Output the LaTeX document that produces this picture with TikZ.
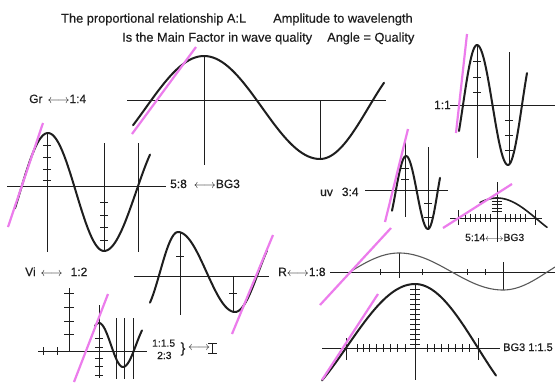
\documentclass[tikz,border=0pt]{standalone}
\usepackage{fontspec}
\setmainfont{Liberation Sans}[FakeBold=0.3]
\definecolor{mag}{RGB}{236,124,236}
\definecolor{ink}{RGB}{30,30,30}
\pgfmathdeclarefunction{hw}{5}{%
  \begingroup
    \pgfmathparse{(#3+#5)/2+(#3-#5)/2*cos(((#1-#2)/(#4-#2))*180)}%
    \pgfmathsmuggle\pgfmathresult
  \endgroup}
\tikzset{
  axis/.style={line width=0.9pt, draw=ink},
  wave/.style={line width=2pt, draw=ink, line cap=round, line join=round},
  midwave/.style={line width=1.6pt, draw=ink, line cap=round, line join=round},
  thinwave/.style={line width=1.1pt, draw=black!65, line cap=round},
  tangent/.style={line width=2.2pt, draw=mag},
  head/.style={font=\fontsize{12.8}{15}\selectfont, text=ink, inner sep=0pt, anchor=base west},
  lbl/.style={font=\fontsize{12}{14}\selectfont, text=ink, inner sep=0pt, anchor=base west},
  small/.style={font=\fontsize{10.3}{12}\selectfont, text=ink, inner sep=0pt, anchor=base west},
}
\begin{document}
\begin{tikzpicture}[x=1pt,y=-1pt]
\fill[white] (0,0) rectangle (555,383);
\useasboundingbox (0,0) rectangle (555,383);

% ---------- headings ----------
\node[head] (t1) at (61,22.7) {The proportional relationship A:L};
\node[head] (t2) at (273,22.7) {Amplitude to wavelength};
\node[head] (t3) at (122,41.7) {Is the Main Factor in wave quality};
\node[head] (t4) at (327,41.7) {Angle = Quality};

% ---------- wave 1 (top centre) ----------
\draw[axis] (127,100) -- (386,100);
\draw[axis] (204,55) -- (204,165);
\draw[axis] (320,100) -- (320,159);
\draw[wave] plot[domain=133:204,samples=30] (\x,{hw(\x,88,159,204,56)})
  -- plot[domain=204:320,samples=40] (\x,{hw(\x,204,56,320,159)})
  -- plot[domain=320:384,samples=30] (\x,{hw(\x,320,159,417,56)});

% ---------- wave 2 (Gr) ----------
\draw[axis] (7,186) -- (166,186);
\draw[axis] (47,133) -- (47,252);
\draw[axis] (104,143) -- (104,251);
\draw[axis] (138,143) -- (138,252);
\foreach \t in {145,157,169,180} \draw[axis] (43,\t) -- (51,\t);
\foreach \t in {202,215,227,240} \draw[axis] (100,\t) -- (108,\t);
\draw[wave] plot[domain=15:48,samples=25] (\x,{hw(\x,-8,251,48,133)})
  -- plot[domain=48:104,samples=35] (\x,{hw(\x,48,133,104,251)})
  -- plot[domain=104:150,samples=30] (\x,{hw(\x,104,251,168,133)});

% ---------- wave 3 (middle) ----------
\draw[axis] (134,276) -- (269,276);
\draw[axis] (180,233) -- (180,315);
\draw[axis] (233,276) -- (233,312);
\draw[axis] (176,256) -- (184,256);
\draw[axis] (229,293) -- (237,293);
\draw[wave] plot[domain=150:178,samples=20] (\x,{hw(\x,142,312,178,232)})
  -- plot[domain=178:235,samples=35] (\x,{hw(\x,178,232,235,312)})
  -- plot[domain=235:267,samples=25] (\x,{hw(\x,235,312,282,232)});

% ---------- wave 4 (Vi) ----------
\draw[axis] (38,351) -- (147,351);
\foreach \t in {43,57} \draw[axis] (\t,347) -- (\t,355);
\draw[axis] (69,288) -- (69,351);
\foreach \t in {293,307,321,334} \draw[axis] (64,\t) -- (74,\t);
\draw[axis] (99,305) -- (99,378);
\foreach \t in {338,347,358,366,375} \draw[axis] (95,\t) -- (103,\t);
\foreach \t in {116,124,133} \draw[axis] (\t,318) -- (\t,379);
\draw[wave] plot[domain=95:99,samples=5] (\x,{hw(\x,75,367,99,323)})
  -- plot[domain=99:123,samples=25] (\x,{hw(\x,99,323,123,367)})
  -- plot[domain=123:142,samples=20] (\x,{hw(\x,123,367,149,323)});
\node[small] (r15) at (152,346.7) {1:1.5};
\node[small] (r23) at (157,359) {2:3};
\node[font=\fontsize{14}{16}\selectfont, text=ink, inner sep=0pt] (brace) at (183,349) {\}};
\node[font=\fontsize{12}{14}\selectfont, text=ink, inner sep=0pt] (arr) at (199,348.5) {$\longleftrightarrow$};
\draw[axis] (208,343) -- (217,343);
\draw[axis] (212,343) -- (212,353);
\draw[axis] (208,353) -- (217,353);

% ---------- wave 5 (1:1) ----------
\draw[axis] (450,105) -- (555,105);
\draw[axis] (477,45) -- (477,158);
\foreach \t in {61,77,92} \draw[axis] (473,\t) -- (481,\t);
\draw[axis] (509,52) -- (509,165);
\foreach \t in {120,135,150} \draw[axis] (505,\t) -- (513,\t);
\draw[wave] plot[domain=459:477,samples=20] (\x,{hw(\x,449,165,477,45)})
  -- plot[domain=477:508,samples=30] (\x,{hw(\x,477,45,508,165)})
  -- plot[domain=508:527,samples=20] (\x,{hw(\x,508,165,536,45)});
\node[lbl, anchor=base east] (r11) at (451,109) {1:1};

% ---------- wave 6 (uv) ----------
\draw[axis] (365,190) -- (448,190);
\draw[axis] (405,140) -- (405,217);
\foreach \t in {168,179} \draw[axis] (401,\t) -- (409,\t);
\draw[axis] (428,147) -- (428,229);
\foreach \t in {203,217} \draw[axis] (424,\t) -- (432,\t);
\draw[wave] plot[domain=392:406,samples=15] (\x,{hw(\x,385,229,406,156)})
  -- plot[domain=406:428,samples=25] (\x,{hw(\x,406,156,428,229)})
  -- plot[domain=428:440,samples=15] (\x,{hw(\x,428,229,447,156)});
\node[lbl] (uv) at (320,196) {uv\hspace{9pt}3:4};

% ---------- wave 7 (5:14) ----------
\draw[axis] (450,218) -- (542,218);
\foreach \t in {458,535} \draw[axis] (\t,210) -- (\t,225);
\draw[axis] (497,182) -- (497,242);
\foreach \t in {465,470,475,480,485,490,505,510,515,520,525} \draw[axis] (\t,214) -- (\t,222);
\foreach \t in {201,204,208,211} \draw[axis] (492,\t) -- (502,\t);
\draw[midwave] plot[domain=480:497,samples=15] (\x,{hw(\x,417,240.4,497,198)})
  -- plot[domain=497:547,samples=30] (\x,{hw(\x,497,198,577,240.4)});
\node[small] (r514) at (465,241) {5:14$\longleftrightarrow$BG3};

% ---------- wave 8 (R) ----------
\draw[axis] (330,272) -- (555,272);
\draw[axis] (399,253) -- (399,278);
\draw[axis] (503,262) -- (503,290);
\foreach \t in {380,422,467,485} \draw[axis] (\t,269) -- (\t,275);
\draw[thinwave] plot[domain=350:399,samples=25] (\x,{hw(\x,302,290,399,253)})
  -- plot[domain=399:503,samples=45] (\x,{hw(\x,399,253,503,290)})
  -- plot[domain=503:555,samples=25] (\x,{hw(\x,503,290,593,253)});
\node[lbl] (r18) at (278,276) {R$\longleftrightarrow$1:8};

% ---------- wave 9 (BG3 1:1.5) ----------
\draw[axis] (322,348) -- (500,348);
\foreach \t in {346,478} \draw[axis] (\t,338) -- (\t,360);
\foreach \t in {357,363,369,376,383,390,397,405,427,434,441,448,455,462,469} \draw[axis] (\t,344) -- (\t,352);
\draw[axis] (415,285) -- (415,380);
\foreach \t in {289,294,...,344} \draw[axis] (410,\t) -- (420,\t);
\draw[wave] plot[domain=322:415,samples=40] (\x,{hw(\x,280,407.6,415,284)})
  -- plot[domain=415:496,samples=35] (\x,{hw(\x,415,284,540,410.4)});
\node[lbl, font=\fontsize{11}{13}\selectfont] (bg3) at (503,351) {BG3 1:1.5};

% ---------- other labels ----------
\node[lbl] (gr) at (29,103) {Gr\hspace{5pt}$\longleftrightarrow$1:4};
\node[lbl] (r58) at (170,188) {5:8\hspace{7pt}$\longleftrightarrow$BG3};
\node[lbl] (vi) at (25,276) {Vi\hspace{5pt}$\longleftrightarrow$\hspace{8pt}1:2};

% ---------- tangent lines ----------
\draw[tangent] (132,134) -- (196,47);
\draw[tangent] (8,227) -- (43,123);
\draw[tangent] (232,334) -- (273,235);
\draw[tangent] (74,382) -- (108,294);
\draw[tangent] (456,133) -- (467,34);
\draw[tangent] (385,222) -- (408,129);
\draw[tangent] (443,228) -- (512,184);
\draw[tangent] (320,305) -- (391,228);
\draw[tangent] (322,380) -- (378,294);
\end{tikzpicture}
\end{document}
